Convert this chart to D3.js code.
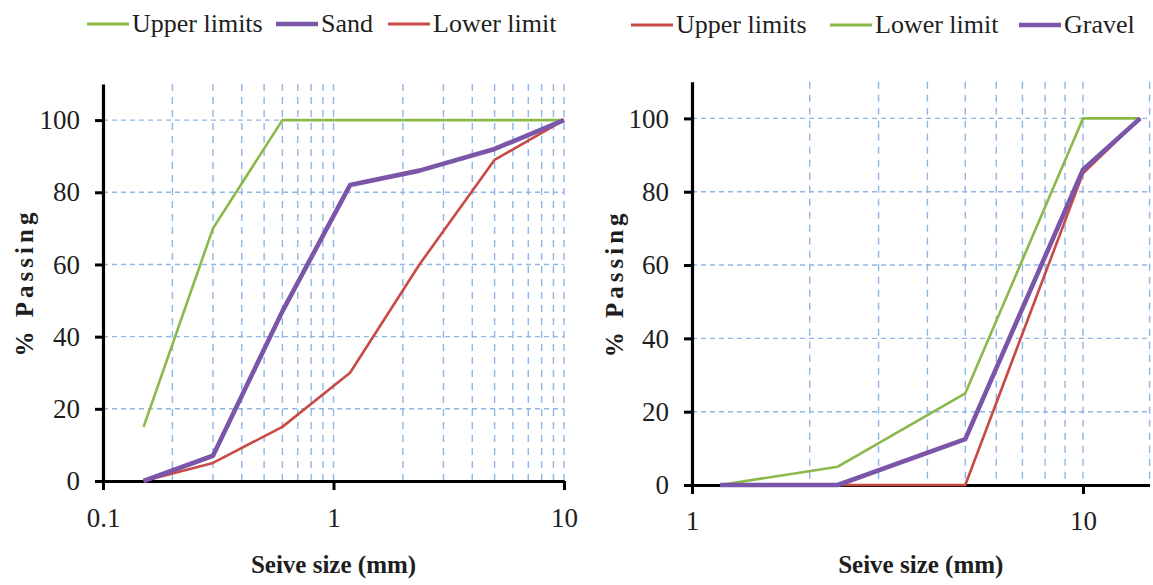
<!DOCTYPE html>
<html>
<head>
<meta charset="utf-8">
<script src="https://cdn.jsdelivr.net/npm/d3@7"></script>
<style>
  html, body { margin: 0; padding: 0; background: #fff; }
  svg { display: block; }
</style>
</head>
<body>
<svg id="chart" width="1153" height="585" font-family="Liberation Serif"></svg>
<script>
// ---------- Data ----------
// Left chart: sand
const sieveSand = [0.15, 0.3, 0.6, 1.18, 2.36, 5, 10];
const sandUpperLimits = [15, 70, 100, 100, 100, 100, 100];
const sandPassing = [0, 7, 47, 82, 86, 92, 100];
const sandLowerLimit = [0, 5, 15, 30, 60, 89, 100];

// Right chart: gravel
const sieveGravel = [1.18, 2.36, 5, 10, 14];
const gravelUpperLimits = [0, 0, 0, 85, 100];
const gravelLowerLimit = [0, 5, 25, 100, 100];
const gravelPassing = [0, 0, 12.5, 86, 100];

// Ticks
const yTicks = [0, 20, 40, 60, 80, 100];
const xTicksSand = [0.1, 1, 10];
const xTicksGravel = [1, 10];
const yGrid = [20, 40, 60, 80, 100];

// ---------- Style ----------
const FONT = "Liberation Serif";
const TEXT = "#1e1e1e";
const GREEN = "#8cb84a";
const PURPLE = "#7a55a8";
const RED = "#c84a45";
const GRID = "#8fb6e6";

const svg = d3.select("#chart");

function minorLogValues(lo, hi) {
  const out = [];
  for (let e = Math.floor(Math.log10(lo)); e <= Math.ceil(Math.log10(hi)); e++) {
    for (let m = 1; m <= 9; m++) {
      const v = m * Math.pow(10, e);
      if (v > lo * 1.0001 && v <= hi * 1.0001) out.push(v);
    }
  }
  return out;
}

function txt(sel, size, bold) {
  return sel.attr("font-family", FONT).style("font-family", FONT)
    .attr("font-size", size).style("font-size", size + "px")
    .attr("font-weight", bold ? "bold" : "normal").style("font-weight", bold ? "bold" : "normal")
    .attr("fill", TEXT).style("fill", TEXT);
}

function drawPanel(cfg) {
  const g = svg.append("g");
  const x = d3.scaleLog().domain(cfg.xDomain).range(cfg.xRange);
  const y = d3.scaleLinear().domain([0, 110]).range(cfg.yRange);
  const x0 = cfg.xRange[0], x1 = cfg.xRange[1];
  const yTop = y(110), yBot = y(0);

  // vertical grid
  const vgrid = minorLogValues(cfg.xDomain[0], cfg.xDomain[1]);
  if (cfg.extraEdgeGrid) vgrid.push(cfg.xDomain[1]);
  g.append("g").selectAll("line").data(vgrid).join("line")
    .attr("x1", d => x(d)).attr("x2", d => x(d))
    .attr("y1", yTop).attr("y2", yBot)
    .attr("stroke", GRID).attr("stroke-width", 1.4)
    .attr("stroke-dasharray", "7,6");
  // horizontal grid
  g.append("g").selectAll("line").data(yGrid).join("line")
    .attr("x1", x0).attr("x2", x1)
    .attr("y1", d => y(d)).attr("y2", d => y(d))
    .attr("stroke", GRID).attr("stroke-width", 1.4)
    .attr("stroke-dasharray", "5,4");

  // axes
  const xAxis = d3.axisBottom(x).tickValues(cfg.xTicks)
    .tickFormat(d => String(d)).tickSize(9).tickSizeOuter(0).tickPadding(cfg.xPad);
  const xa = g.append("g").attr("transform", `translate(0,${yBot})`).call(xAxis);
  const yAxis = d3.axisLeft(y).tickValues(yTicks).tickFormat(d3.format("d"))
    .tickSize(8).tickSizeOuter(0).tickPadding(15);
  const ya = g.append("g").attr("transform", `translate(${x0},0)`).call(yAxis);
  [xa, ya].forEach(a => {
    a.attr("font-family", FONT).attr("font-size", 27);
    a.select(".domain").attr("stroke", "#000").attr("stroke-width", 3.2);
    a.selectAll(".tick line").attr("stroke", "#000").attr("stroke-width", 3);
    txt(a.selectAll(".tick text"), 27, false);
  });

  // series lines
  const line = d3.line().x(d => x(d[0])).y(d => y(d[1])).curve(d3.curveLinear);
  cfg.series.forEach(s => {
    const pts = cfg.sieve.map((v, i) => [v, s.values[i]]);
    g.append("path").datum(pts)
      .attr("d", line).attr("fill", "none")
      .attr("stroke", s.color).attr("stroke-width", s.width)
      .attr("stroke-linejoin", "round").attr("stroke-linecap", "butt");
  });

  // axis titles
  txt(g.append("text"), 25, true)
    .attr("x", (x0 + x1) / 2).attr("y", 573)
    .attr("text-anchor", "middle")
    .text("Seive size (mm)");
  txt(g.append("text"), 25, true)
    .attr("transform", `translate(${cfg.yTitleX},${(yTop + yBot) / 2}) rotate(-90)`)
    .attr("text-anchor", "middle")
    .attr("letter-spacing", 4).style("letter-spacing", "4px")
    .text("% Passing");

  // legend
  cfg.legend.forEach(l => {
    g.append("line").attr("x1", l.x).attr("x2", l.x + 42)
      .attr("y1", cfg.legendY).attr("y2", cfg.legendY)
      .attr("stroke", l.color).attr("stroke-width", l.w);
    txt(g.append("text"), 26, false)
      .attr("x", l.x + 45).attr("y", cfg.legendY + 8)
      .text(l.label);
  });
}

drawPanel({
  xDomain: [0.1, 10], xRange: [103, 564], yRange: [481, 481 - 3.609 * 110],
  xTicks: xTicksSand, xPad: 18, yTitleX: 33, extraEdgeGrid: false,
  sieve: sieveSand,
  series: [
    { values: sandUpperLimits, color: GREEN, width: 2.6 },
    { values: sandLowerLimit, color: RED, width: 2.6 },
    { values: sandPassing, color: PURPLE, width: 4.6 }
  ],
  legendY: 24,
  legend: [
    { x: 87, color: GREEN, w: 3, label: "Upper limits" },
    { x: 276, color: PURPLE, w: 4.5, label: "Sand" },
    { x: 388, color: RED, w: 3, label: "Lower limit" }
  ]
});

drawPanel({
  xDomain: [1, 14.8], xRange: [692, 692 + 391 * Math.log10(14.8)], yRange: [485, 485 - 3.666 * 110],
  xTicks: xTicksGravel, xPad: 17, yTitleX: 623, extraEdgeGrid: true,
  sieve: sieveGravel,
  series: [
    { values: gravelLowerLimit, color: GREEN, width: 2.6 },
    { values: gravelUpperLimits, color: RED, width: 2.6 },
    { values: gravelPassing, color: PURPLE, width: 4.6 }
  ],
  legendY: 25,
  legend: [
    { x: 631, color: RED, w: 3, label: "Upper limits" },
    { x: 830, color: GREEN, w: 3, label: "Lower limit" },
    { x: 1019, color: PURPLE, w: 4.5, label: "Gravel" }
  ]
});
</script>
</body>
</html>
